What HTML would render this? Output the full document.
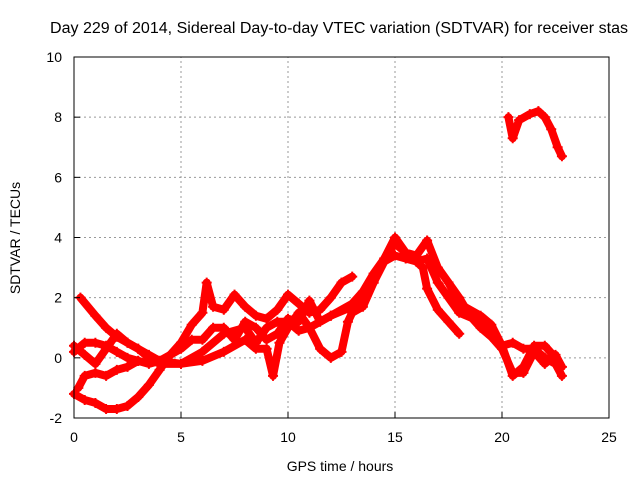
<!DOCTYPE html>
<html><head><meta charset="utf-8"><style>
body{margin:0;background:#fff}
svg{display:block;font-family:"Liberation Sans",sans-serif}
</style></head><body>
<svg id="chart" width="640" height="480" viewBox="0 0 640 480">
<rect width="640" height="480" fill="#fff"/>
<text x="50" y="33" font-size="15.5" textLength="578" lengthAdjust="spacingAndGlyphs" fill="#000">Day 229 of 2014, Sidereal Day-to-day VTEC variation (SDTVAR) for receiver stas</text>
<text x="340" y="471" font-size="14" text-anchor="middle">GPS time / hours</text>
<text transform="translate(20,238) rotate(-90)" font-size="14" text-anchor="middle">SDTVAR / TECUs</text>
<g id="grid"></g><g id="series"></g><g id="axes"></g>
</svg>
<script>
const xTicks=[0,5,10,15,20,25];
const yTicks=[-2,0,2,4,6,8,10];
const track1=[[0.3,2.0],[1,1.4],[1.5,1.0],[2,0.7],[2.5,0.5],[3,0.3],[3.5,0],[4,-0.2],[5,-0.2],[6,0.2],[7,0.8],[8,1.0],[8.5,0.5],[9,1.0],[9.5,1.2],[10,1.2],[10.5,0.9],[11,1.0],[12,1.4],[13,1.7],[14,2.5],[14.5,3.2],[15,3.4],[15.5,3.3],[16,3.2],[16.5,3.3],[17,2.5],[17.5,2.0],[18,1.5],[19,1.2],[19.5,0.9],[20,0.4],[20.5,0.5],[21,0.3],[21.5,0.3],[22,0],[22.5,-0.2],[22.8,-0.6]];
const track2=[[0,-1.2],[0.5,-1.4],[1,-1.5],[1.5,-1.7],[2,-1.7],[2.5,-1.6],[3,-1.3],[3.5,-0.9],[4,-0.4],[4.5,0.1],[5,0.5],[5.5,1.1],[6,1.5],[6.2,2.5],[6.5,1.7],[7,1.6],[7.5,2.1],[8,1.7],[8.5,1.4],[9,1.3],[9.5,1.6],[10,2.1],[10.5,1.8],[11,1.5],[11.5,1.6],[12,2.0],[12.5,2.5],[13,2.7]];
const track3=[[0,0.4],[0.5,0.1],[1,-0.2],[1.5,0.3],[2,0.8],[2.5,0.5],[3,0.3],[3.5,0.1],[4,-0.1],[5,-0.2],[6,-0.1],[7,0.2],[8,0.6],[8.5,0.3],[9,0.3],[9.3,-0.6],[9.6,0.5],[10,1.0],[10.5,1.5],[11,1.0],[11.5,0.3],[12,0],[12.5,0.2],[12.8,1.2],[13,1.5],[13.5,1.7],[14,2.5],[14.5,3.3],[15,4.0],[15.5,3.5],[16,3.2],[16.3,3.0],[16.5,2.3],[17,1.6],[17.5,1.2],[18,0.8]];
const track4=[[0.2,-1.0],[0.5,-0.6],[1,-0.5],[1.5,-0.6],[2,-0.4],[2.5,-0.3],[3,-0.1],[3.5,-0.2],[4,-0.1],[5,0.3],[5.5,0.6],[6,0.6],[6.5,1.0],[7,1.0],[7.5,0.6],[8,1.2],[8.5,1.0],[9,0.6],[9.5,0.8],[10,1.3],[10.5,1.2],[11,1.9],[11.5,1.2],[12,1.4],[13,1.8],[13.5,2.2],[14,2.8],[14.5,3.3],[15,3.8],[15.5,3.5],[16,3.4],[16.5,3.9],[17,3.0],[17.5,2.5],[18,2.0],[18.5,1.4],[19,1.0],[19.5,0.7],[20,0.3],[20.5,-0.5],[21,-0.5],[21.5,0.2],[22,-0.2],[22.5,0.1],[22.8,-0.3]];
const track5=[[0,0.2],[0.5,0.5],[1,0.5],[1.5,0.4],[2,0.2],[2.5,0.0],[3,-0.1],[17.5,2.5],[18,1.8],[19,1.4],[19.5,1.1],[20,0.4],[20.5,-0.6],[21,-0.3],[21.5,0.4],[22,0.4],[22.5,0]];
const track6=[[20.3,8.0],[20.5,7.3],[20.8,7.9],[21.3,8.1],[21.7,8.2],[22,8.0],[22.3,7.6],[22.6,7.0],[22.8,6.7]];
const tracks=[track1,track2,track3,track4,track5.slice(0,7),track5.slice(7),track6];

const X0=74,X1=609,Y0=418,Y1=57;
const xs=t=>X0+(t-0)/(25-0)*(X1-X0);
const ys=v=>Y0-(v+2)/(12)*(Y0-Y1);
const NS='http://www.w3.org/2000/svg';
function mk(tag,attrs,parent){const e=document.createElementNS(NS,tag);for(const k in attrs)e.setAttribute(k,attrs[k]);parent.appendChild(e);return e;}
const grid=document.getElementById('grid'),axes=document.getElementById('axes'),ser=document.getElementById('series');
xTicks.forEach(t=>{
  const x=xs(t);
  if(t>0&&t<25){const l=mk('line',{x1:x,x2:x,y1:Y0,y2:Y1,stroke:'#999','stroke-dasharray':'2,3'},grid);
  
  }
  const tk=mk('line',{x1:x,x2:x,y1:Y0,y2:Y0-6,stroke:'#000'},axes);
  
  
  const tx=mk('text',{x:x,y:Y0+24,'font-size':14,'text-anchor':'middle'},axes);tx.textContent=t;
  
  
});
yTicks.forEach(v=>{
  const y=ys(v);
  if(v>-2&&v<10){const l=mk('line',{x1:X0,x2:X1,y1:y,y2:y,stroke:'#999','stroke-dasharray':'2,3'},grid);
  
  }
  const tk=mk('line',{x1:X0,x2:X0+6,y1:y,y2:y,stroke:'#000'},axes);
  
  
  const tx=mk('text',{x:X0-12,y:y+5,'font-size':14,'text-anchor':'end'},axes);tx.textContent=v;
  
  
});
const box=mk('rect',{x:X0,y:Y1,width:X1-X0,height:Y0-Y1,fill:'none',stroke:'#000'},axes);


tracks.forEach(tr=>{
  const p=mk('polyline',{points:tr.map(d=>xs(d[0])+','+ys(d[1])).join(' '),fill:'none',stroke:'#f00','stroke-width':8,'stroke-linejoin':'round','stroke-linecap':'round'},ser);
  
  
  tr.forEach(d=>{
    const m=mk('path',{d:`M${xs(d[0])-5},${ys(d[1])}h10M${xs(d[0])},${ys(d[1])-5}v10`,stroke:'#f00','stroke-width':2},ser);
    
    
  });
});
</script>
</body></html>
